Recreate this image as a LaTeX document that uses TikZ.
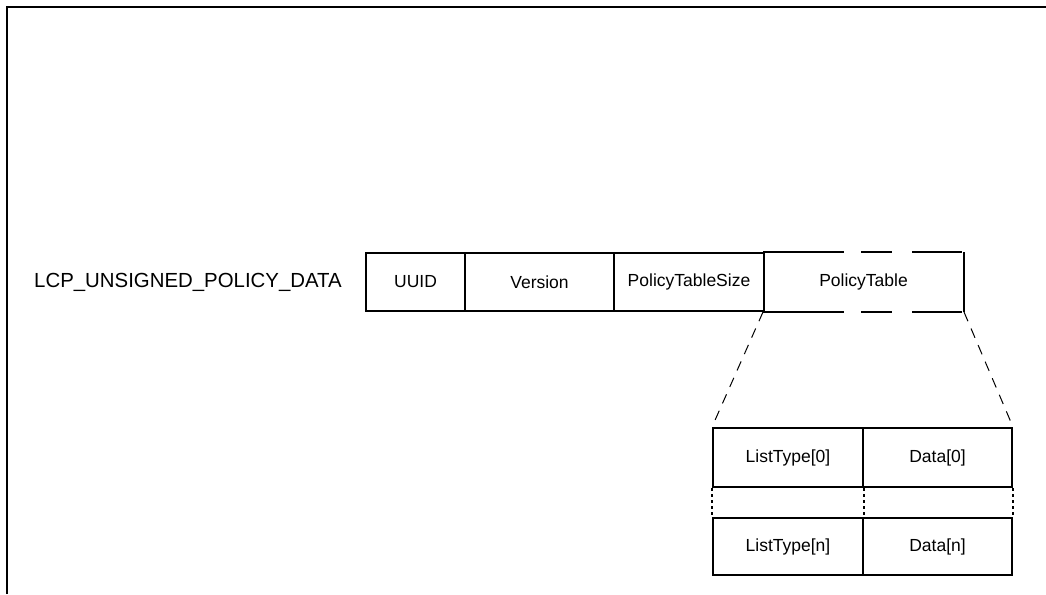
\documentclass[tikz,border=0pt]{standalone}
\usepackage{fontspec}
\setmainfont{Liberation Sans}
\usetikzlibrary{positioning}
\tikzset{
	cell/.style={draw, line width=2pt, inner sep=0pt, minimum height=#1, font=\fontsize{17.5}{20}\selectfont},
	cell/.default=58pt,
	zoomline/.style={line width=1pt, dash pattern=on 10pt off 8pt},
	gapline/.style={line width=2pt, dash pattern=on 3pt off 3pt}
}

\begin{document}
\begin{tikzpicture}[x=1pt, y=-1pt]
			%%%%% START %%%%%
			\useasboundingbox (0, 0) rectangle (1046, 594);
			
			\draw[line width=2pt] (7, 594) -- (7, 7) -- (1046, 7);
			
			\node[font=\fontsize{20.4}{24}\selectfont] (title) at (188, 282) {LCP\_UNSIGNED\_POLICY\_DATA};
			
			\node[cell, minimum width=99pt] (uuid) at (415.5, 282) {UUID};
			\node[cell, minimum width=149pt] (version) at (539.5, 282) {Version};
			\node[cell, minimum width=150pt] (ptsize) at (689, 282) {PolicyTableSize};
			\node[cell, draw=none, minimum width=199pt] (ptable) at (863.5, 282) {PolicyTable};
			
			\draw[line width=2pt, dash pattern=on 81pt off 17pt on 31pt off 20pt on 50pt] (ptable.north west) -- (ptable.north east);
			\draw[line width=2pt, dash pattern=on 81pt off 17pt on 31pt off 20pt on 50pt] (ptable.south west) -- (ptable.south east);
			\draw[line width=2pt] (ptable.north east) -- (ptable.south east);
			
			\node[cell=59pt, minimum width=150pt] (type0) at (788, 457.5) {ListType[0]};
			\node[cell=59pt, minimum width=149pt] (data0) at (937.5, 457.5) {Data[0]};
			\node[cell=57pt, minimum width=150pt] (typen) at (788, 546.5) {ListType[n]};
			\node[cell=57pt, minimum width=149pt] (datan) at (937.5, 546.5) {Data[n]};
			
			\draw[zoomline] (ptable.south west) -- (type0.north west);
			\draw[zoomline] (ptable.south east) -- (data0.north east);
			
			\draw[gapline] (type0.south west) -- (typen.north west);
			\draw[gapline] (type0.south east) -- (typen.north east);
			\draw[gapline] (data0.south east) -- (datan.north east);
			
			%%%%% END %%%%%
\end{tikzpicture}
\end{document}
